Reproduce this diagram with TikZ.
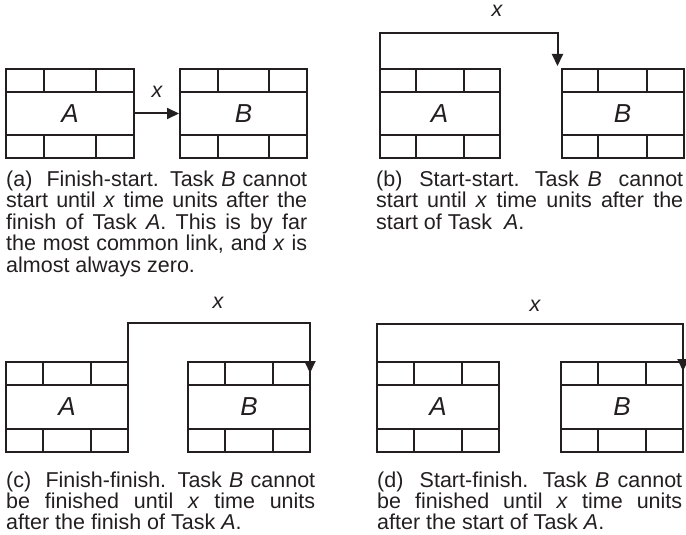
\documentclass[tikz,border=0pt]{standalone}
\usepackage{fontspec}
\setmainfont{Liberation Sans}
\usetikzlibrary{positioning,arrows.meta,calc}
\definecolor{ink}{RGB}{35,31,32}
\newcommand{\capfont}{\fontsize{21.5}{21.5}\selectfont\hyphenpenalty=10000\relax}
\newcommand{\capfontlow}{\fontsize{21.5}{21}\selectfont\hyphenpenalty=10000\relax}
\newcommand{\boxfont}{\fontsize{26}{26}\selectfont\itshape}
\newcommand{\lagfont}{\fontsize{21.5}{22}\selectfont\itshape}

\begin{document}
\begin{tikzpicture}[x=1pt,y=-1pt,
  >={Triangle[length=12pt,width=11pt]},
  taskbox/.style={draw=ink,line width=2pt,inner sep=0pt,outer sep=0pt,
    minimum height=89pt,font=\boxfont,text=ink,
    path picture={
      \path (path picture bounding box.north west) coordinate (p1)
            (path picture bounding box.south east) coordinate (p2);
      \draw[ink,line width=2pt] ($(p1)+(0,23)$) -- ($(p2 |- p1)+(0,23)$)
                                ($(p1 |- p2)+(0,-23)$) -- ($(p2)+(0,-23)$);
      \foreach \f in {0.3,0.7}{
        \draw[ink,line width=2pt] ($(p1)!\f!(p2 |- p1)$) -- +(0,23)
                                  ($(p1 |- p2)!\f!(p2)$) -- +(0,-23);
      }
    }},
  link/.style={->,draw=ink,line width=2pt},
  lag/.style={font=\lagfont,text=ink,inner sep=0pt},
  caption/.style={anchor=north west,inner sep=0pt,align=justify,font=\capfont,text=ink},
]
\useasboundingbox (0,0) rectangle (686,535);
% (a) finish-start
\node[taskbox,minimum width=128pt] (aA) at (70,113.5) {A};
\node[taskbox,minimum width=127pt] (aB) at (243.5,113.5) {B};
\draw[link,shorten >=1pt] (aA) -- (aB) node[lag,midway,above=15pt]{x};
\node[caption,text width=301pt] (capa) at (6,170.6)
  {(a)\ \ Finish-start. Task \textit{B} cannot start until \textit{x} time units after the finish of Task \textit{A}. This is by far the most common link, and \textit{x} is almost always zero.};
% (b) start-start
\node[taskbox,minimum width=120pt] (bA) at (439.5,113.5) {A};
\node[taskbox,minimum width=122pt] (bB) at (622.5,113.5) {B};
\coordinate (bT) at ($(bB.north west)+(-4,-3)$);
\draw[link] (bA.north west) -- ++(0,-36) -| (bT) node[lag,pos=0.33,above=15pt]{x};
\node[caption,text width=307pt] (capb) at (376,170.6)
  {(b)\ \ Start-start. Task \textit{B}\ \ cannot start until \textit{x} time units after the start of Task\ \ \textit{A}.};
% (c) finish-finish
\node[taskbox,minimum width=122pt,minimum height=90pt] (cA) at (67,407) {A};
\node[taskbox,minimum width=122pt,minimum height=90pt] (cB) at (249,407) {B};
\coordinate (cT) at ($(cB.north east)+(0,11)$);
\draw[link] (cA.north east) -- ++(0,-39) -| (cT) node[lag,pos=0.247,above=14pt]{x};
\node[caption,text width=309pt,font=\capfontlow] (capc) at (6,472.1)
  {(c)\ \ Finish-finish. Task \textit{B} cannot be finished until \textit{x} time units\linebreak after the finish of Task \textit{A}.};
% (d) start-finish
\node[taskbox,minimum width=122pt,minimum height=90pt] (dA) at (438,407) {A};
\node[taskbox,minimum width=122pt,minimum height=90pt] (dB) at (622,407) {B};
\coordinate (dT) at ($(dB.north east)+(0,9)$);
\draw[link] (dA.north west) -- ++(0,-38) -| (dT) node[lag,pos=0.258,above=12pt]{x};
\node[caption,text width=305pt,font=\capfontlow] (capd) at (377,472.1)
  {(d)\ \ Start-finish. Task \textit{B} cannot be finished until \textit{x} time units\linebreak after the start of Task \textit{A}.};
\end{tikzpicture}
\end{document}
